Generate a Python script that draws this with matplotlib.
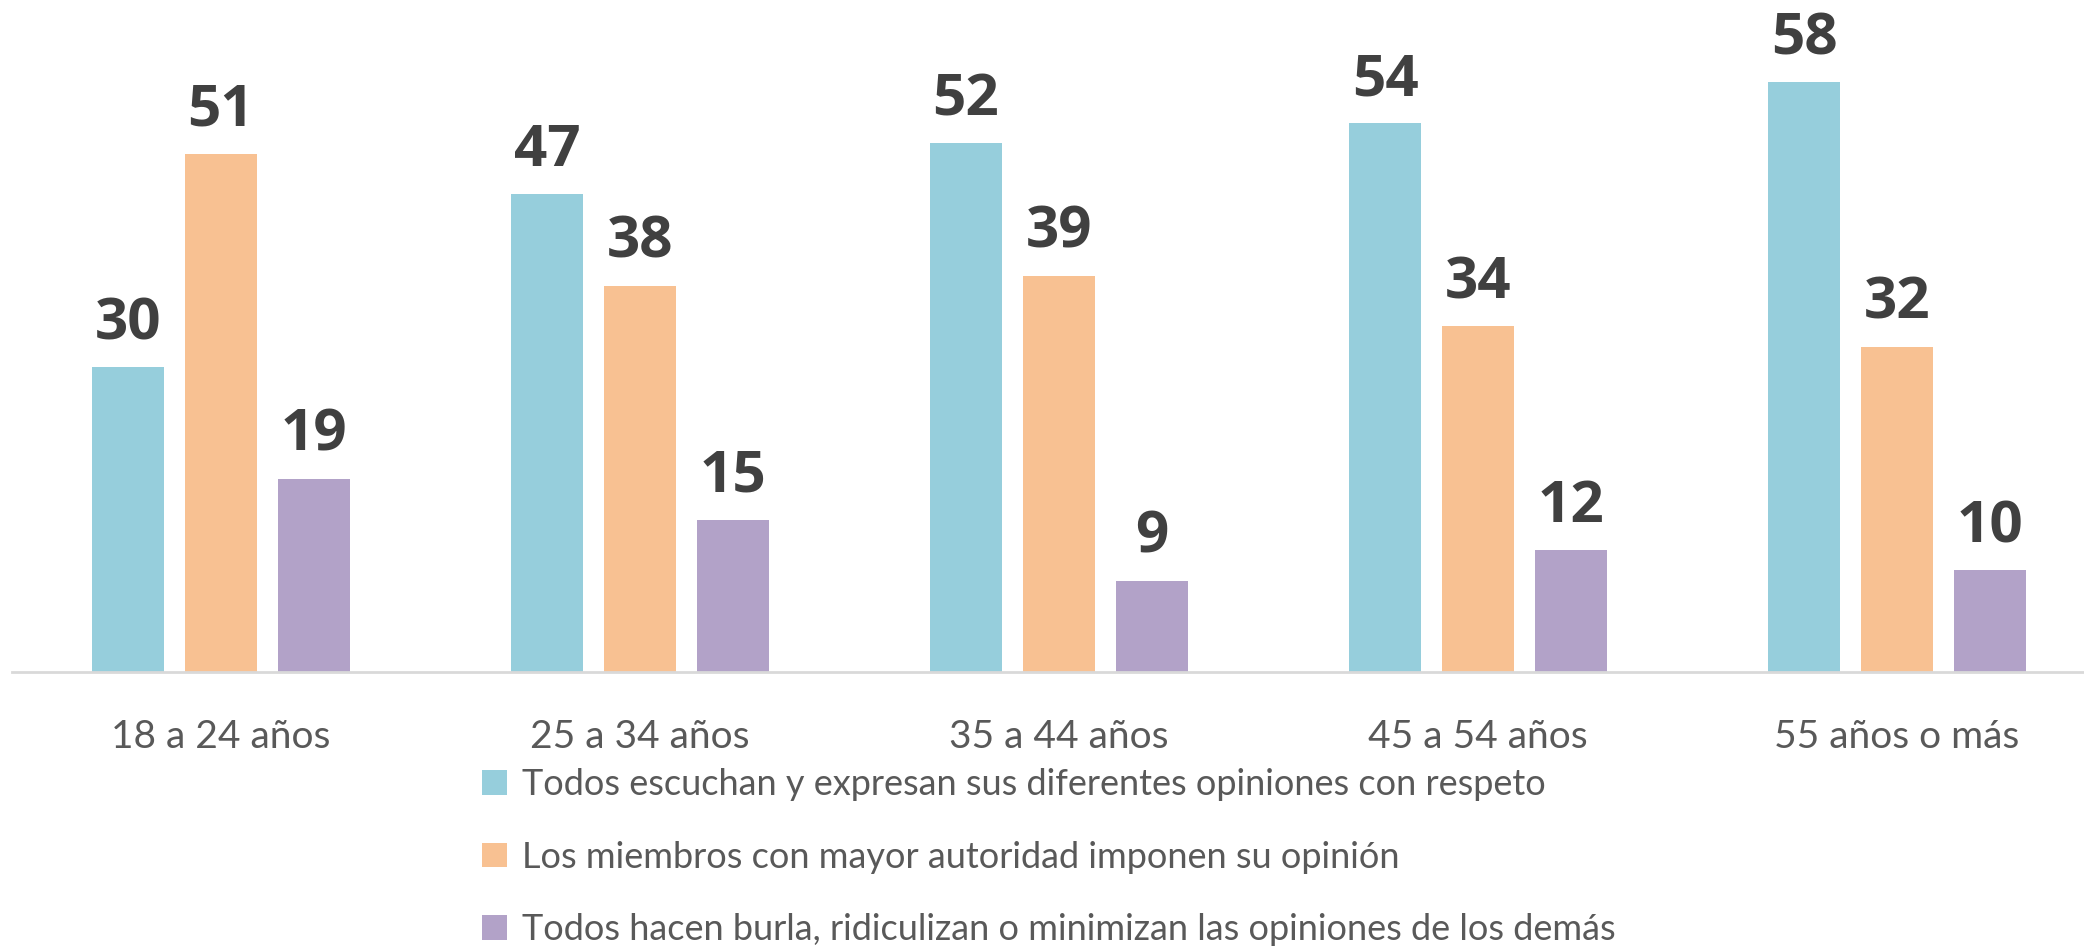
import numpy as np
import matplotlib.pyplot as plt

# datos
grupos = ['18 a 24 años', '25 a 34 años', '35 a 44 años', '45 a 54 años', '55 años o más']
series = ['Todos escuchan y expresan sus diferentes opiniones con respeto',
          'Los miembros con mayor autoridad imponen su opinión',
          'Todos hacen burla, ridiculizan o minimizan las opiniones de los demás']
respeto = [30, 47, 52, 54, 58]
autoridad = [51, 38, 39, 34, 32]
burla = [19, 15, 9, 12, 10]
colores = ['#96cedc', '#f8c192', '#b2a2c8']

W, H = 2084, 950
fig = plt.figure(figsize=(W / 100, H / 100), dpi=100)
ax = fig.add_axes([11.5 / W, (950 - 672) / H, 2095 / W, 671 / H])

x = np.arange(len(grupos))
ancho = 0.174
paso = 0.222
barras = []
for i, (vals, col) in enumerate(zip([respeto, autoridad, burla], colores)):
    b = ax.bar(x + (i - 1) * paso, vals, ancho, color=col, label=series[i])
    barras.append(b)
    for xi, v in zip(x + (i - 1) * paso, vals):
        ax.annotate(str(v), (xi, v), xytext=(0, 14), textcoords='offset pixels',
                    ha='center', va='bottom', fontsize=42, fontweight='bold',
                    color='#404040', family='Open Sans')

ax.set_xlim(-0.5, 4.5)
ax.set_ylim(0, 66)
ax.set_yticks([])
ax.set_xticks(x)
ax.set_xticklabels(grupos, fontsize=28, color='#595959', family='Lato')
ax.tick_params(axis='x', length=0, pad=34)
for s in ['top', 'right', 'left']:
    ax.spines[s].set_visible(False)
ax.spines['bottom'].set_color('#d9d9d9')
ax.spines['bottom'].set_linewidth(2)

fig.legend(handles=barras, loc='upper left', bbox_to_anchor=(482 / W, 1 - 768 / H),
           frameon=False, labelspacing=1.1, handlelength=0.68,
           handleheight=0.68, handletextpad=0.42, borderaxespad=0, borderpad=0,
           labelcolor='#595959', prop={'family': 'Lato', 'size': 26})

fig.savefig('out.png', dpi=100)
